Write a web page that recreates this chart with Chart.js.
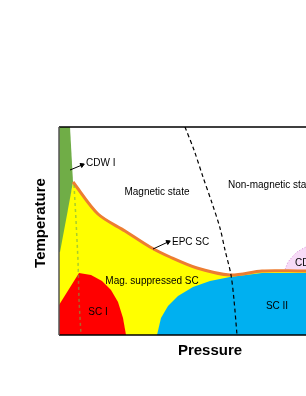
<!DOCTYPE html>
<html>
<head>
<meta charset="utf-8">
<script src="https://cdn.jsdelivr.net/npm/chart.js@4/dist/chart.umd.min.js"></script>
<style>
  html, body { margin: 0; padding: 0; overflow: hidden; background: #fff; }
  #wrap { width: 370px; height: 396px; }
</style>
</head>
<body>
<div id="wrap"><canvas id="c" width="370" height="396"></canvas></div>
<script>
// phase boundaries (pressure, temperature in arbitrary units)
const epcLine   = [[14,153],[39,121],[66,104],[91,88],[111,78],[138,67],[171,60],[203,64],[241,64],[302,64]];
const cdwOne    = [[0,208],[11,208],[14,153],[7,115],[1,83],[0,83]];
const scOne     = [[0,30],[20,62],[32,60],[43,54],[52,45],[59,33],[64,17],[67,0],[0,0]];
const scTwo     = [[171,58],[151,54],[134,48],[119,39],[109,29],[102,17],[98,0],[302,0],[302,62],[203,62],[171,58]];
const cdwTwo    = [[225,63],[229,73],[234,79],[238,83],[243,86],[247,88],[256,90],[266,90],[276,87],[286,79],[293,63]];
const magLine   = [[126,208],[135,185],[144,158],[153,132],[161,107],[166,85],[172,60],[175,35],[178,0]];
const cdwDash   = [[15,150],[17,115],[19,75],[20,35],[22,0]];
const yellowArea = epcLine.concat([[302,0],[0,0],[0,90],[14,153]]);

const labels   = ['CDW I', 'Magnetic state', 'Non-magnetic state', 'EPC SC', 'Mag. suppressed SC', 'SC I', 'SC II', 'CDW II'];
const labelAt  = [[27,172],[98,143],[169,150],[113,93],[93,54],[39,23],[218,29],[236,72]];
const labelAlign = ['left','center','left','left','center','center','center','left'];

const arrowCdw = [[11,165],[23,170]];
const arrowEpc = [[94,86],[109,93]];

function pts(a) { return a.map(p => ({x: p[0], y: p[1]})); }

function area(data, color, order) {
    return {
        data: pts(data),
        backgroundColor: color,
        borderWidth: 0,
        fill: 'shape',
        pointRadius: 0,
        order: order
    };
}

function line(data, color, width, dash, order, tension) {
    return {
        data: pts(data),
        borderColor: color,
        borderWidth: width,
        borderDash: dash,
        fill: false,
        pointRadius: 0,
        tension: tension || 0,
        order: order
    };
}

function arrow(data, rot) {
    return {
        data: pts(data),
        borderColor: '#000',
        backgroundColor: '#000',
        borderWidth: 1,
        fill: false,
        pointRadius: [0, 2.5],
        pointStyle: 'triangle',
        rotation: [0, rot],
        order: 1
    };
}

const pink = area(cdwTwo, 'rgba(240,190,240,0.55)', 6);
pink.borderWidth = 1;
pink.borderColor = '#d98ad9';
pink.borderDash = [1, 2];

const frame = {
    id: 'frame',
    afterDraw(chart) {
        const {ctx, chartArea: a} = chart;
        ctx.save();
        ctx.lineWidth = 1.5;
        ctx.strokeStyle = '#000';
        ctx.beginPath();
        ctx.moveTo(a.left, a.top); ctx.lineTo(a.right, a.top);
        ctx.moveTo(a.left, a.bottom); ctx.lineTo(a.right, a.bottom);
        ctx.stroke();
        ctx.strokeStyle = '#555';
        ctx.beginPath();
        ctx.moveTo(a.left, a.top); ctx.lineTo(a.left, a.bottom);
        ctx.stroke();

        const sx = chart.scales.x, sy = chart.scales.y;
        ctx.fillStyle = '#000';
        ctx.font = '10px "Liberation Sans", Arial, sans-serif';
        ctx.textBaseline = 'middle';
        labels.forEach((t, i) => {
            ctx.textAlign = labelAlign[i];
            ctx.fillText(t, sx.getPixelForValue(labelAt[i][0]), sy.getPixelForValue(labelAt[i][1]));
        });

        ctx.font = 'bold 15px "Liberation Sans", Arial, sans-serif';
        ctx.textAlign = 'center';
        ctx.fillText('Pressure', (a.left + a.right) / 2, a.bottom + 16);
        ctx.translate(a.left - 18, (a.top + a.bottom) / 2 - 8);
        ctx.rotate(-Math.PI / 2);
        ctx.fillText('Temperature', 0, 0);
        ctx.restore();
    }
};

new Chart(document.getElementById('c'), {
    type: 'line',
    data: {
        datasets: [
            area(yellowArea, '#ffff00', 10),
            area(cdwOne, '#70ad47', 9),
            area(scOne, '#ff0000', 8),
            area(scTwo, '#00b0f0', 7),
            pink,
            line(epcLine, '#ed7d31', 3, [], 5, 0.3),
            line(cdwDash, 'rgba(112,173,71,0.6)', 1.5, [3, 3], 4),
            line(magLine, '#000', 1.2, [4, 3], 3, 0.3),
            arrow(arrowCdw, 67),
            arrow(arrowEpc, 65)
        ]
    },
    options: {
        responsive: false,
        animation: false,
        layout: { padding: { left: 59, top: 127, right: 9, bottom: 61 } },
        scales: {
            x: { type: 'linear', min: 0, max: 302, display: false },
            y: { type: 'linear', min: 0, max: 208, display: false }
        },
        plugins: { legend: { display: false }, tooltip: { enabled: false } }
    },
    plugins: [frame]
});
</script>
</body>
</html>
